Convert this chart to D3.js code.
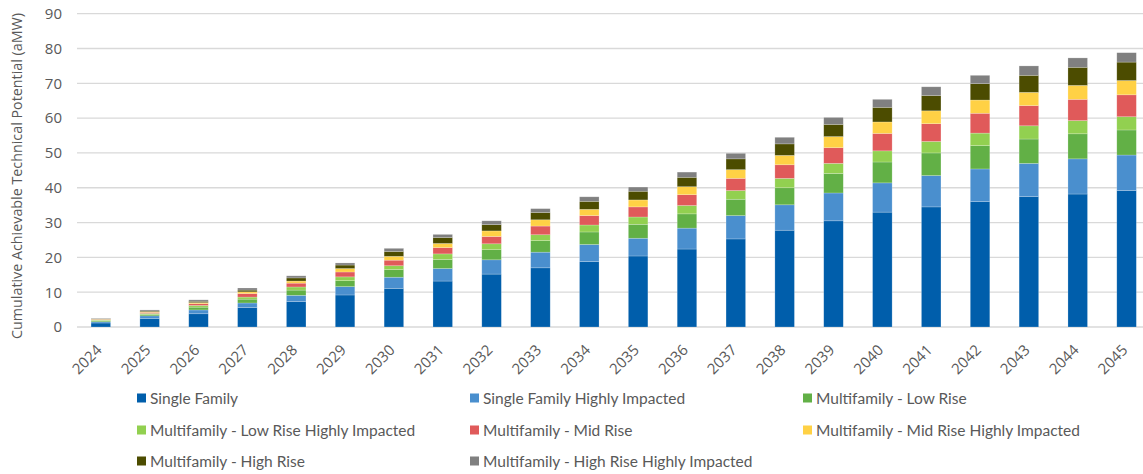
<!DOCTYPE html>
<html>
<head>
<meta charset="utf-8">
<script src="https://cdn.jsdelivr.net/npm/d3@7"></script>
<style>
  body { margin: 0; background: #fff; }
  svg { display: block; }
</style>
</head>
<body>
<svg id="canvas"></svg>
<script>
let years = ['2024','2025','2026','2027','2028','2029','2030','2031','2032','2033','2034',
  '2035','2036','2037','2038','2039','2040','2041','2042','2043','2044','2045'];

let seriesNames = ['Single Family', 'Single Family Highly Impacted', 'Multifamily - Low Rise',
  'Multifamily - Low Rise Highly Impacted', 'Multifamily - Mid Rise', 'Multifamily - Mid Rise Highly Impacted',
  'Multifamily - High Rise', 'Multifamily - High Rise Highly Impacted'];

let colors = ['#005eab', '#4a8fce', '#62b046', '#92d050', '#e05a5a', '#ffd145', '#4c4c00', '#808080'];

// segment sizes per year, one array per series
let singleFamily = [1.15, 2.4, 3.8, 5.6, 7.3, 9.2, 11.1, 13.2, 15.2, 17.0, 18.8, 20.4, 22.4, 25.3, 27.8, 30.5, 33.0, 34.5, 36.0, 37.5, 38.2, 39.2];
let singleFamilyHI = [0.35, 0.8, 1.1, 1.3, 1.8, 2.4, 3.2, 3.6, 4.1, 4.5, 4.9, 5.1, 6.0, 6.7, 7.3, 8.0, 8.4, 9.0, 9.4, 9.5, 10.1, 10.2];
let lowRise = [0.3, 0.4, 0.8, 1.1, 1.5, 1.7, 2.2, 2.6, 2.9, 3.3, 3.6, 4.0, 4.1, 4.7, 4.9, 5.6, 6.0, 6.5, 6.7, 7.0, 7.2, 7.2];
let lowRiseHI = [0.2, 0.3, 0.5, 0.6, 0.9, 1.1, 1.1, 1.6, 1.7, 1.7, 2.0, 2.1, 2.4, 2.5, 2.7, 2.9, 3.2, 3.3, 3.6, 3.8, 3.8, 3.8];
let midRise = [0.15, 0.3, 0.5, 1.0, 1.1, 1.4, 1.6, 1.8, 2.1, 2.5, 2.7, 2.9, 3.1, 3.5, 3.9, 4.5, 5.0, 5.1, 5.7, 5.8, 6.1, 6.3];
let midRiseHI = [0.1, 0.2, 0.3, 0.5, 0.6, 1.0, 1.1, 1.2, 1.6, 1.8, 1.8, 2.0, 2.3, 2.5, 2.7, 3.2, 3.3, 3.7, 3.8, 3.8, 4.0, 4.1];
let highRise = [0.1, 0.2, 0.4, 0.5, 0.9, 1.0, 1.4, 1.7, 1.8, 2.1, 2.3, 2.5, 2.7, 3.1, 3.3, 3.5, 4.2, 4.4, 4.7, 4.9, 5.2, 5.3];
let highRiseHI = [0.15, 0.3, 0.4, 0.6, 0.6, 0.6, 0.9, 0.9, 1.1, 1.1, 1.3, 1.2, 1.5, 1.6, 1.9, 2.0, 2.3, 2.5, 2.4, 2.7, 2.7, 2.7];

let seriesValues = [singleFamily, singleFamilyHI, lowRise, lowRiseHI, midRise, midRiseHI, highRise, highRiseHI];
let yTicks = [0, 10, 20, 30, 40, 50, 60, 70, 80, 90];

let width = 1143;
let height = 474;

let canvas = d3.select('#canvas').attr('width', width).attr('height', height);

let rows = years.map((year, i) => {
  let row = { year: year };
  seriesNames.forEach((name, s) => { row[name] = seriesValues[s][i]; });
  return row;
});

let stacked = d3.stack().keys(seriesNames)(rows);

let xScale = d3.scaleBand().domain(years).range([76.4, 1151]).paddingInner(0.6).paddingOuter(0.3);
let yScale = d3.scaleLinear().domain([0, 90]).range([327, 13.7]);

// gridlines
canvas.append('g')
  .selectAll('line')
  .data(yTicks)
  .enter()
  .append('line')
  .attr('x1', 77)
  .attr('x2', 1151)
  .attr('y1', d => yScale(d))
  .attr('y2', d => yScale(d))
  .attr('stroke', '#d9d9d9')
  .attr('stroke-width', 1.3);

// y axis labels
let yAxis = d3.axisLeft(yScale).tickValues(yTicks).tickSize(0).tickPadding(0);
let yG = canvas.append('g')
  .attr('transform', 'translate(62,0)')
  .call(yAxis);
yG.select('.domain').remove();
yG.selectAll('text')
  .attr('font-family', 'Open Sans, sans-serif')
  .attr('font-size', 15)
  .attr('fill', '#595959');

// bars
canvas.append('g')
  .selectAll('g')
  .data(stacked)
  .enter()
  .append('g')
  .attr('fill', (d, i) => colors[i])
  .selectAll('rect')
  .data(d => d)
  .enter()
  .append('rect')
  .attr('x', d => xScale(d.data.year))
  .attr('width', xScale.bandwidth())
  .attr('y', d => yScale(d[1]))
  .attr('height', d => yScale(d[0]) - yScale(d[1]))
  .attr('stroke', 'rgba(255,255,255,0.35)')
  .attr('stroke-width', 0.6);

// x axis
let xAxis = d3.axisBottom(xScale).tickSize(0).tickPadding(0);
let xG = canvas.append('g')
  .attr('transform', 'translate(0,327)')
  .call(xAxis);
xG.select('.domain').remove();
xG.selectAll('text')
  .attr('font-family', 'Open Sans, sans-serif')
  .attr('font-size', 15)
  .attr('fill', '#595959')
  .attr('text-anchor', 'end')
  .attr('dy', 0)
  .attr('transform', 'translate(2,24) rotate(-45)');

// y axis title
canvas.append('text')
  .attr('transform', 'translate(22,176) rotate(-90)')
  .attr('text-anchor', 'middle')
  .attr('font-family', 'Open Sans, sans-serif')
  .attr('font-size', 14.3)
  .attr('fill', '#595959')
  .text('Cumulative Achievable Technical Potential (aMW)');

// legend
let legendX = [137, 470, 803];
let legendY = [398, 430, 461];
let legend = canvas.append('g')
  .selectAll('g')
  .data(seriesNames)
  .enter()
  .append('g')
  .attr('transform', (d, i) => 'translate(' + legendX[i % 3] + ',' + legendY[Math.floor(i / 3)] + ')');

legend.append('rect')
  .attr('x', 0)
  .attr('y', -4.5)
  .attr('width', 9)
  .attr('height', 9)
  .attr('fill', (d, i) => colors[i]);

legend.append('text')
  .attr('x', 13)
  .attr('y', 5.5)
  .attr('font-family', 'Lato, sans-serif')
  .attr('font-size', 15.5)
  .attr('fill', '#595959')
  .text(d => d);
</script>
</body>
</html>
